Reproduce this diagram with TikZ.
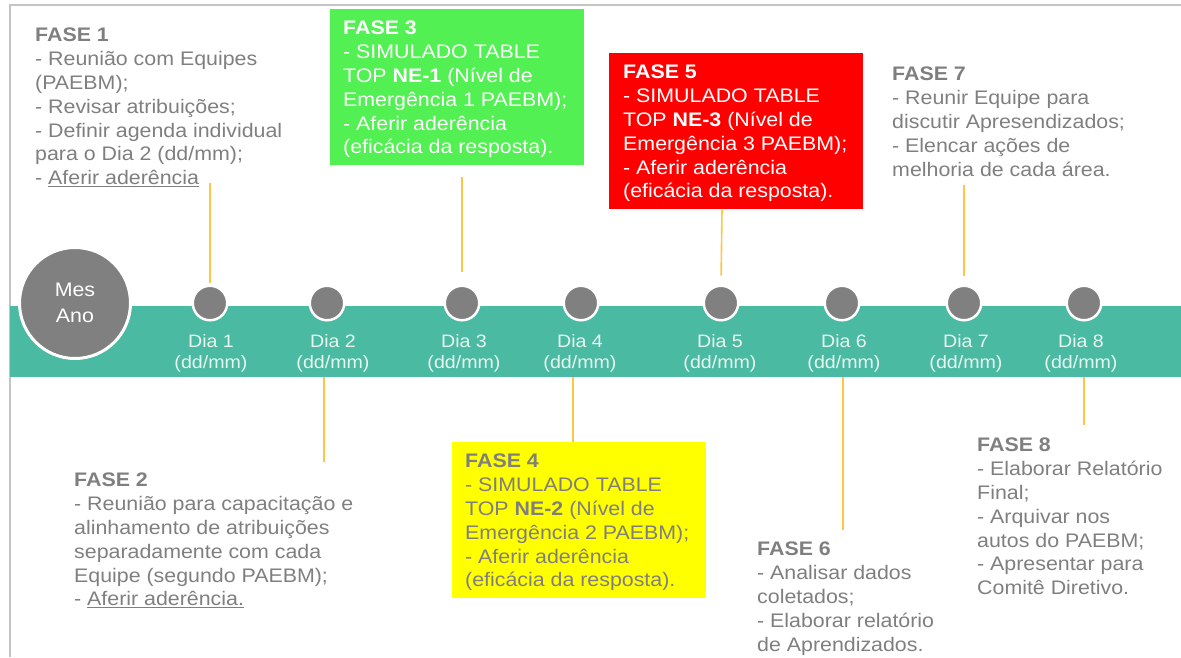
\documentclass[tikz,border=0pt]{standalone}
\usepackage{fontspec}
\setmainfont[FakeStretch=1.09]{Liberation Sans}
\definecolor{bandc}{RGB}{74,186,163}
\definecolor{dotc}{RGB}{128,128,128}
\definecolor{txtc}{RGB}{127,127,127}
\definecolor{connc}{RGB}{255,198,70}
\definecolor{greenc}{RGB}{82,240,82}
\definecolor{redc}{RGB}{255,0,0}
\definecolor{yelc}{RGB}{255,255,0}
\definecolor{framec}{RGB}{196,196,196}
\definecolor{dialc}{RGB}{232,246,240}
\begin{document}
\begin{tikzpicture}[x=1pt,y=-1pt,
  frameline/.style={draw=framec,line width=2pt},
  conn/.style={draw=connc,line width=1.6pt},
  bandbox/.style={fill=bandc,draw=none,anchor=north west,inner sep=0,minimum width=1171pt,minimum height=71pt},
  bigdot/.style={circle,fill=dotc,draw=white,line width=3pt,minimum size=111pt,inner sep=0,text=white,align=center,font=\fontsize{19.6}{26}\selectfont},
  daydot/.style={circle,fill=dotc,draw=white,line width=2.5pt,minimum size=34.5pt,inner sep=0},
  daylbl/.style={anchor=north,inner sep=0,align=center,text=dialc,font=\fontsize{18}{21}\selectfont},
  phase/.style={anchor=north west,inner sep=0,align=left,text=txtc,font=\fontsize{19.6}{23.8}\selectfont},
  colbox/.style={anchor=north west,inner sep=0,draw=none,minimum width=254pt,minimum height=156pt}
]
\useasboundingbox (0,0) rectangle (1181,657);
% frame
\coordinate (fbl) at (10,657);
\coordinate (ftl) at (10,5);
\coordinate (ftr) at (1181,5);
\draw[frameline] (fbl) -- (ftl) -- (ftr);
% band
\node[bandbox] (band) at (10,306) {};
% big circle
\node[bigdot] (mes) at (75,303) {Mes\\Ano};
% day dots
\node[daydot] (d1) at (210,303) {};
\node[daydot] (d2) at (327,303) {};
\node[daydot] (d3) at (462,303) {};
\node[daydot] (d4) at (581,303) {};
\node[daydot] (d5) at (721,303) {};
\node[daydot] (d6) at (842,303) {};
\node[daydot] (d7) at (964,303) {};
\node[daydot] (d8) at (1084,303) {};
% day labels
\node[daylbl] (l1) at (211,334) {Dia 1\\(dd/mm)};
\node[daylbl] (l2) at (333,334) {Dia 2\\(dd/mm)};
\node[daylbl] (l3) at (464,334) {Dia 3\\(dd/mm)};
\node[daylbl] (l4) at (580,334) {Dia 4\\(dd/mm)};
\node[daylbl] (l5) at (720,334) {Dia 5\\(dd/mm)};
\node[daylbl] (l6) at (844,334) {Dia 6\\(dd/mm)};
\node[daylbl] (l7) at (966,334) {Dia 7\\(dd/mm)};
\node[daylbl] (l8) at (1081,334) {Dia 8\\(dd/mm)};
% coloured boxes
\node[colbox,fill=greenc] (b3) at (330,9) {};
\node[colbox,fill=redc] (b5) at (609,53) {};
\node[colbox,fill=yelc] (b4) at (452,442) {};
% phase texts
\node[phase] (t1) at (35,28) {\textbf{FASE 1}\\- Reunião com Equipes\\(PAEBM);\\- Revisar atribuições;\\- Definir agenda individual\\para o Dia 2 (dd/mm);\\- \underline{Aferir aderência}};
\node[phase,text=white] (t3) at (343,21) {\textbf{FASE 3}\\- SIMULADO TABLE\\TOP \textbf{NE-1} (Nível de\\Emergência 1 PAEBM);\\- Aferir aderência\\(eficácia da resposta).};
\node[phase,text=white] (t5) at (623,65) {\textbf{FASE 5}\\- SIMULADO TABLE\\TOP \textbf{NE-3} (Nível de\\Emergência 3 PAEBM);\\- Aferir aderência\\(eficácia da resposta).};
\node[phase] (t7) at (892,67) {\textbf{FASE 7}\\- Reunir Equipe para\\discutir Apresendizados;\\- Elencar ações de\\melhoria de cada área.};
\node[phase] (t2) at (74,473) {\textbf{FASE 2}\\- Reunião para capacitação e\\alinhamento de atribuições\\separadamente com cada\\Equipe (segundo PAEBM);\\- \underline{Aferir aderência.}};
\node[phase] (t4) at (465,454) {\textbf{FASE 4}\\- SIMULADO TABLE\\TOP \textbf{NE-2} (Nível de\\Emergência 2 PAEBM);\\- Aferir aderência\\(eficácia da resposta).};
\node[phase] (t6) at (757,542) {\textbf{FASE 6}\\- Analisar dados\\coletados;\\- Elaborar relatório\\de Aprendizados.};
\node[phase] (t8) at (977,438) {\textbf{FASE 8}\\- Elaborar Relatório\\Final;\\- Arquivar nos\\autos do PAEBM;\\- Apresentar para\\Comitê Diretivo.};
% connector ends
\coordinate (c1) at (210,183);
\coordinate (c3) at (462,177);
\coordinate (c5) at (722,210);
\coordinate (c7) at (964,185);
\coordinate (c2a) at (324,377);
\coordinate (c2b) at (324,462);
\coordinate (c4) at (573,377);
\coordinate (c6a) at (843,377);
\coordinate (c6b) at (843,530);
\coordinate (c8a) at (1084,377);
\coordinate (c8b) at (1084,425);
% connectors
\draw[conn,shorten >=2pt] (c1) -- (d1.north);
\draw[conn,shorten >=13pt] (c3) -- (d3.north);
\draw[conn,shorten >=9pt] (c5) -- (d5.north);
\draw[conn,shorten >=9pt] (c7) -- (d7.north);
\draw[conn] (c2a) -- (c2b);
\draw[conn] (c4) -- (c4 |- b4.north);
\draw[conn] (c6a) -- (c6b);
\draw[conn] (c8a) -- (c8b);
\end{tikzpicture}
\end{document}
